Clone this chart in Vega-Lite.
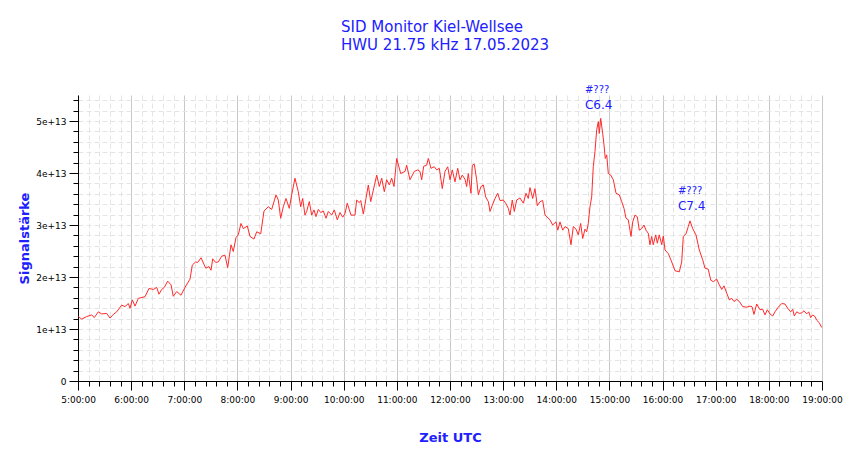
{
  "$schema": "https://vega.github.io/schema/vega-lite/v6.json",
  "width": 744,
  "height": 286,
  "autosize": "none",
  "padding": {"left": 78, "top": 95, "right": 28, "bottom": 78},
  "background": "white",
  "title": {
    "text": ["SID Monitor Kiel-Wellsee", "HWU 21.75 kHz 17.05.2023"],
    "anchor": "start",
    "align": "left",
    "dx": 323,
    "offset": 32,
    "font": "DejaVu Sans",
    "fontSize": 15,
    "fontWeight": "normal",
    "lineHeight": 18,
    "color": "#2020ff"
  },
  "datasets": {
    "messung": [
      {"zeit": 5.006, "signal": 1.24e13}, {"zeit": 5.070, "signal": 1.19e13}, {"zeit": 5.164, "signal": 1.24e13},
      {"zeit": 5.258, "signal": 1.27e13}, {"zeit": 5.307, "signal": 1.22e13}, {"zeit": 5.382, "signal": 1.33e13},
      {"zeit": 5.446, "signal": 1.29e13}, {"zeit": 5.540, "signal": 1.30e13}, {"zeit": 5.602, "signal": 1.21e13},
      {"zeit": 5.664, "signal": 1.28e13}, {"zeit": 5.728, "signal": 1.33e13}, {"zeit": 5.822, "signal": 1.46e13},
      {"zeit": 5.884, "signal": 1.43e13}, {"zeit": 5.947, "signal": 1.49e13}, {"zeit": 5.978, "signal": 1.40e13},
      {"zeit": 6.022, "signal": 1.56e13}, {"zeit": 6.073, "signal": 1.44e13}, {"zeit": 6.135, "signal": 1.59e13},
      {"zeit": 6.261, "signal": 1.62e13}, {"zeit": 6.336, "signal": 1.78e13}, {"zeit": 6.417, "signal": 1.76e13},
      {"zeit": 6.481, "signal": 1.80e13}, {"zeit": 6.524, "signal": 1.67e13}, {"zeit": 6.575, "signal": 1.76e13},
      {"zeit": 6.624, "signal": 1.80e13}, {"zeit": 6.688, "signal": 1.92e13}, {"zeit": 6.750, "signal": 1.85e13},
      {"zeit": 6.793, "signal": 1.63e13}, {"zeit": 6.857, "signal": 1.72e13}, {"zeit": 6.938, "signal": 1.65e13},
      {"zeit": 7.013, "signal": 1.80e13}, {"zeit": 7.108, "signal": 1.96e13}, {"zeit": 7.151, "signal": 2.23e13},
      {"zeit": 7.215, "signal": 2.29e13}, {"zeit": 7.252, "signal": 2.28e13}, {"zeit": 7.315, "signal": 2.37e13},
      {"zeit": 7.403, "signal": 2.17e13}, {"zeit": 7.465, "signal": 2.20e13}, {"zeit": 7.503, "signal": 2.13e13},
      {"zeit": 7.535, "signal": 2.35e13}, {"zeit": 7.591, "signal": 2.28e13}, {"zeit": 7.640, "signal": 2.29e13},
      {"zeit": 7.704, "signal": 2.40e13}, {"zeit": 7.766, "signal": 2.42e13}, {"zeit": 7.817, "signal": 2.18e13},
      {"zeit": 7.879, "signal": 2.62e13}, {"zeit": 7.922, "signal": 2.49e13}, {"zeit": 7.973, "signal": 2.76e13},
      {"zeit": 8.016, "signal": 2.81e13}, {"zeit": 8.067, "signal": 3.03e13}, {"zeit": 8.111, "signal": 2.93e13},
      {"zeit": 8.186, "signal": 2.98e13}, {"zeit": 8.237, "signal": 2.78e13}, {"zeit": 8.312, "signal": 2.73e13},
      {"zeit": 8.363, "signal": 2.87e13}, {"zeit": 8.438, "signal": 2.83e13}, {"zeit": 8.500, "signal": 3.27e13},
      {"zeit": 8.581, "signal": 3.35e13}, {"zeit": 8.645, "signal": 3.30e13}, {"zeit": 8.726, "signal": 3.58e13},
      {"zeit": 8.769, "signal": 3.48e13}, {"zeit": 8.814, "signal": 3.13e13}, {"zeit": 8.863, "signal": 3.35e13},
      {"zeit": 8.914, "signal": 3.51e13}, {"zeit": 8.976, "signal": 3.32e13}, {"zeit": 9.021, "signal": 3.58e13},
      {"zeit": 9.083, "signal": 3.90e13}, {"zeit": 9.145, "signal": 3.64e13}, {"zeit": 9.191, "signal": 3.35e13},
      {"zeit": 9.228, "signal": 3.51e13}, {"zeit": 9.271, "signal": 3.19e13}, {"zeit": 9.303, "signal": 3.26e13},
      {"zeit": 9.352, "signal": 3.45e13}, {"zeit": 9.398, "signal": 3.19e13}, {"zeit": 9.441, "signal": 3.29e13},
      {"zeit": 9.478, "signal": 3.16e13}, {"zeit": 9.522, "signal": 3.30e13}, {"zeit": 9.567, "signal": 3.24e13},
      {"zeit": 9.616, "signal": 3.27e13}, {"zeit": 9.667, "signal": 3.13e13}, {"zeit": 9.710, "signal": 3.26e13},
      {"zeit": 9.774, "signal": 3.19e13}, {"zeit": 9.823, "signal": 3.29e13}, {"zeit": 9.879, "signal": 3.10e13},
      {"zeit": 9.930, "signal": 3.24e13}, {"zeit": 9.981, "signal": 3.15e13}, {"zeit": 10.024, "signal": 3.22e13},
      {"zeit": 10.067, "signal": 3.42e13}, {"zeit": 10.137, "signal": 3.19e13}, {"zeit": 10.212, "signal": 3.19e13},
      {"zeit": 10.244, "signal": 3.48e13}, {"zeit": 10.293, "signal": 3.43e13}, {"zeit": 10.320, "signal": 3.47e13},
      {"zeit": 10.369, "signal": 3.21e13}, {"zeit": 10.419, "signal": 3.51e13}, {"zeit": 10.463, "signal": 3.77e13},
      {"zeit": 10.508, "signal": 3.45e13}, {"zeit": 10.557, "signal": 3.67e13}, {"zeit": 10.621, "signal": 3.96e13},
      {"zeit": 10.670, "signal": 3.74e13}, {"zeit": 10.715, "signal": 3.90e13}, {"zeit": 10.764, "signal": 3.64e13},
      {"zeit": 10.809, "signal": 3.87e13}, {"zeit": 10.858, "signal": 3.77e13}, {"zeit": 10.903, "signal": 3.90e13},
      {"zeit": 10.946, "signal": 3.74e13}, {"zeit": 10.997, "signal": 4.28e13}, {"zeit": 11.072, "signal": 3.99e13},
      {"zeit": 11.153, "signal": 4.03e13}, {"zeit": 11.185, "signal": 4.15e13}, {"zeit": 11.247, "signal": 3.87e13},
      {"zeit": 11.328, "signal": 4.03e13}, {"zeit": 11.392, "signal": 4.06e13}, {"zeit": 11.435, "signal": 4.03e13},
      {"zeit": 11.467, "signal": 3.87e13}, {"zeit": 11.505, "signal": 4.13e13}, {"zeit": 11.561, "signal": 4.15e13},
      {"zeit": 11.592, "signal": 4.28e13}, {"zeit": 11.642, "signal": 4.09e13}, {"zeit": 11.704, "signal": 4.12e13},
      {"zeit": 11.750, "signal": 4.06e13}, {"zeit": 11.799, "signal": 4.09e13}, {"zeit": 11.855, "signal": 3.70e13},
      {"zeit": 11.906, "signal": 4.03e13}, {"zeit": 11.957, "signal": 4.12e13}, {"zeit": 12.000, "signal": 3.87e13},
      {"zeit": 12.043, "signal": 4.06e13}, {"zeit": 12.094, "signal": 3.83e13}, {"zeit": 12.145, "signal": 4.09e13},
      {"zeit": 12.188, "signal": 3.87e13}, {"zeit": 12.231, "signal": 3.96e13}, {"zeit": 12.282, "signal": 3.88e13},
      {"zeit": 12.314, "signal": 3.74e13}, {"zeit": 12.344, "signal": 3.99e13}, {"zeit": 12.395, "signal": 3.61e13},
      {"zeit": 12.420, "signal": 4.15e13}, {"zeit": 12.457, "signal": 4.17e13}, {"zeit": 12.502, "signal": 3.87e13},
      {"zeit": 12.533, "signal": 3.58e13}, {"zeit": 12.583, "signal": 3.74e13}, {"zeit": 12.627, "signal": 3.77e13},
      {"zeit": 12.672, "signal": 3.54e13}, {"zeit": 12.721, "signal": 3.45e13}, {"zeit": 12.753, "signal": 3.26e13},
      {"zeit": 12.796, "signal": 3.38e13}, {"zeit": 12.847, "signal": 3.51e13}, {"zeit": 12.898, "signal": 3.61e13},
      {"zeit": 12.941, "signal": 3.47e13}, {"zeit": 13.003, "signal": 3.48e13}, {"zeit": 13.048, "signal": 3.42e13},
      {"zeit": 13.097, "signal": 3.32e13}, {"zeit": 13.129, "signal": 3.19e13}, {"zeit": 13.172, "signal": 3.48e13},
      {"zeit": 13.210, "signal": 3.26e13}, {"zeit": 13.255, "signal": 3.48e13}, {"zeit": 13.317, "signal": 3.52e13},
      {"zeit": 13.379, "signal": 3.42e13}, {"zeit": 13.430, "signal": 3.61e13}, {"zeit": 13.473, "signal": 3.51e13},
      {"zeit": 13.505, "signal": 3.72e13}, {"zeit": 13.556, "signal": 3.51e13}, {"zeit": 13.599, "signal": 3.70e13},
      {"zeit": 13.643, "signal": 3.37e13}, {"zeit": 13.694, "signal": 3.45e13}, {"zeit": 13.744, "signal": 3.47e13},
      {"zeit": 13.788, "signal": 3.19e13}, {"zeit": 13.882, "signal": 3.10e13}, {"zeit": 13.932, "signal": 3.00e13},
      {"zeit": 13.995, "signal": 3.06e13}, {"zeit": 14.027, "signal": 2.90e13}, {"zeit": 14.070, "signal": 3.06e13},
      {"zeit": 14.121, "signal": 2.90e13}, {"zeit": 14.164, "signal": 2.97e13}, {"zeit": 14.226, "signal": 2.93e13},
      {"zeit": 14.277, "signal": 2.62e13}, {"zeit": 14.320, "signal": 2.97e13}, {"zeit": 14.371, "signal": 2.92e13},
      {"zeit": 14.414, "signal": 2.81e13}, {"zeit": 14.459, "signal": 3.03e13}, {"zeit": 14.497, "signal": 2.74e13},
      {"zeit": 14.540, "signal": 2.92e13}, {"zeit": 14.572, "signal": 2.87e13}, {"zeit": 14.602, "signal": 3.03e13},
      {"zeit": 14.634, "signal": 3.35e13}, {"zeit": 14.666, "signal": 3.54e13}, {"zeit": 14.696, "signal": 4.12e13},
      {"zeit": 14.728, "signal": 4.41e13}, {"zeit": 14.760, "signal": 4.83e13}, {"zeit": 14.791, "signal": 4.99e13},
      {"zeit": 14.809, "signal": 4.76e13}, {"zeit": 14.836, "signal": 5.05e13}, {"zeit": 14.873, "signal": 4.76e13},
      {"zeit": 14.898, "signal": 4.54e13}, {"zeit": 14.922, "signal": 4.28e13}, {"zeit": 14.949, "signal": 4.35e13},
      {"zeit": 14.979, "signal": 3.99e13}, {"zeit": 15.024, "signal": 3.96e13}, {"zeit": 15.073, "signal": 3.87e13},
      {"zeit": 15.124, "signal": 3.61e13}, {"zeit": 15.186, "signal": 3.58e13}, {"zeit": 15.231, "signal": 3.45e13},
      {"zeit": 15.274, "signal": 3.32e13}, {"zeit": 15.312, "signal": 3.13e13}, {"zeit": 15.355, "signal": 3.10e13},
      {"zeit": 15.406, "signal": 2.78e13}, {"zeit": 15.438, "signal": 3.06e13}, {"zeit": 15.481, "signal": 3.19e13},
      {"zeit": 15.524, "signal": 3.16e13}, {"zeit": 15.562, "signal": 2.90e13}, {"zeit": 15.607, "signal": 2.93e13},
      {"zeit": 15.650, "signal": 3.00e13}, {"zeit": 15.688, "signal": 2.90e13}, {"zeit": 15.731, "signal": 2.84e13},
      {"zeit": 15.763, "signal": 2.62e13}, {"zeit": 15.795, "signal": 2.78e13}, {"zeit": 15.825, "signal": 2.62e13},
      {"zeit": 15.871, "signal": 2.81e13}, {"zeit": 15.901, "signal": 2.65e13}, {"zeit": 15.938, "signal": 2.81e13},
      {"zeit": 15.984, "signal": 2.62e13}, {"zeit": 16.014, "signal": 2.79e13}, {"zeit": 16.046, "signal": 2.52e13},
      {"zeit": 16.108, "signal": 2.45e13}, {"zeit": 16.172, "signal": 2.29e13}, {"zeit": 16.234, "signal": 2.12e13},
      {"zeit": 16.315, "signal": 2.10e13}, {"zeit": 16.360, "signal": 2.29e13}, {"zeit": 16.390, "signal": 2.78e13},
      {"zeit": 16.441, "signal": 2.83e13}, {"zeit": 16.484, "signal": 2.97e13}, {"zeit": 16.516, "signal": 3.08e13},
      {"zeit": 16.567, "signal": 2.93e13}, {"zeit": 16.629, "signal": 2.81e13}, {"zeit": 16.691, "signal": 2.52e13},
      {"zeit": 16.755, "signal": 2.33e13}, {"zeit": 16.798, "signal": 2.17e13}, {"zeit": 16.860, "signal": 2.15e13},
      {"zeit": 16.906, "signal": 1.94e13}, {"zeit": 16.954, "signal": 1.91e13}, {"zeit": 17.018, "signal": 1.96e13},
      {"zeit": 17.067, "signal": 1.85e13}, {"zeit": 17.113, "signal": 1.76e13}, {"zeit": 17.156, "signal": 1.83e13},
      {"zeit": 17.207, "signal": 1.69e13}, {"zeit": 17.256, "signal": 1.56e13}, {"zeit": 17.301, "signal": 1.59e13},
      {"zeit": 17.344, "signal": 1.53e13}, {"zeit": 17.395, "signal": 1.57e13}, {"zeit": 17.444, "signal": 1.53e13},
      {"zeit": 17.508, "signal": 1.43e13}, {"zeit": 17.583, "signal": 1.42e13}, {"zeit": 17.645, "signal": 1.44e13},
      {"zeit": 17.683, "signal": 1.43e13}, {"zeit": 17.720, "signal": 1.28e13}, {"zeit": 17.771, "signal": 1.48e13},
      {"zeit": 17.833, "signal": 1.37e13}, {"zeit": 17.884, "signal": 1.38e13}, {"zeit": 17.927, "signal": 1.27e13},
      {"zeit": 17.971, "signal": 1.37e13}, {"zeit": 18.021, "signal": 1.29e13}, {"zeit": 18.072, "signal": 1.25e13},
      {"zeit": 18.115, "signal": 1.33e13}, {"zeit": 18.178, "signal": 1.42e13}, {"zeit": 18.242, "signal": 1.49e13},
      {"zeit": 18.304, "signal": 1.48e13}, {"zeit": 18.354, "signal": 1.40e13}, {"zeit": 18.411, "signal": 1.33e13},
      {"zeit": 18.449, "signal": 1.38e13}, {"zeit": 18.479, "signal": 1.25e13}, {"zeit": 18.524, "signal": 1.33e13},
      {"zeit": 18.573, "signal": 1.30e13}, {"zeit": 18.618, "signal": 1.31e13}, {"zeit": 18.661, "signal": 1.35e13},
      {"zeit": 18.712, "signal": 1.29e13}, {"zeit": 18.750, "signal": 1.33e13}, {"zeit": 18.787, "signal": 1.22e13},
      {"zeit": 18.825, "signal": 1.27e13}, {"zeit": 18.868, "signal": 1.24e13}, {"zeit": 18.900, "signal": 1.17e13},
      {"zeit": 18.949, "signal": 1.12e13}, {"zeit": 18.994, "signal": 1.03e13}
    ],
    "ereignisse": [
      {"zeit": 14.54, "signal": 5.60e13, "text": "#???", "zeile": "oben"},
      {"zeit": 14.54, "signal": 5.31e13, "text": "C6.4", "zeile": "unten"},
      {"zeit": 16.29, "signal": 3.65e13, "text": "#???", "zeile": "oben"},
      {"zeit": 16.29, "signal": 3.37e13, "text": "C7.4", "zeile": "unten"}
    ]
  },
  "layer": [
    {
      "data": {"name": "messung"},
      "mark": {"type": "line", "strokeOpacity": 0},
      "encoding": {
        "x": {
          "field": "zeit", "type": "quantitative",
          "scale": {"domain": [5, 19], "nice": false, "zero": false},
          "axis": {
            "orient": "bottom", "title": null, "labels": false, "domain": false,
            "values": [5.2, 5.4, 5.6, 5.8, 6.2, 6.4, 6.6, 6.8, 7.2, 7.4, 7.6, 7.8, 8.2, 8.4, 8.6, 8.8, 9.2, 9.4, 9.6, 9.8, 10.2, 10.4, 10.6, 10.8, 11.2, 11.4, 11.6, 11.8, 12.2, 12.4, 12.6, 12.8, 13.2, 13.4, 13.6, 13.8, 14.2, 14.4, 14.6, 14.8, 15.2, 15.4, 15.6, 15.8, 16.2, 16.4, 16.6, 16.8, 17.2, 17.4, 17.6, 17.8, 18.2, 18.4, 18.6, 18.8],
            "tickSize": 5, "tickColor": "#000000", "tickWidth": 1,
            "grid": true, "gridColor": "#e4e4e4", "gridDash": [5, 3], "gridWidth": 1
          }
        },
        "y": {
          "field": "signal", "type": "quantitative",
          "scale": {"domain": [0, 5.5e13], "nice": false},
          "axis": {
            "orient": "left", "title": null, "labels": false, "domain": false,
            "values": [0, 2e12, 4e12, 6e12, 8e12, 1e13, 1.2e13, 1.4e13, 1.6e13, 1.8e13, 2e13, 2.2e13, 2.4e13, 2.6e13, 2.8e13, 3e13, 3.2e13, 3.4e13, 3.6e13, 3.8e13, 4e13, 4.2e13, 4.4e13, 4.6e13, 4.8e13, 5e13, 5.2e13, 5.4e13],
            "tickSize": 5, "tickColor": "#000000", "tickWidth": 1,
            "grid": true, "gridColor": "#e4e4e4", "gridDash": [5, 3], "gridWidth": 1
          }
        }
      }
    },
    {
      "data": {"name": "messung"},
      "mark": {"type": "line", "color": "#ff2a2a", "strokeWidth": 1, "clip": true},
      "encoding": {
        "x": {
          "field": "zeit", "type": "quantitative",
          "axis": {
            "orient": "bottom",
            "values": [5, 6, 7, 8, 9, 10, 11, 12, 13, 14, 15, 16, 17, 18, 19],
            "labelExpr": "datum.value + ':00:00'",
            "labelOverlap": false, "labelFlush": false,
            "labelFont": "DejaVu Sans", "labelFontSize": 9, "labelColor": "#000000", "labelPadding": 5,
            "tickSize": 9, "tickColor": "#000000", "domainColor": "#000000",
            "grid": true, "gridColor": "#c8c8c8", "gridWidth": 1,
            "title": "Zeit UTC", "titleFont": "DejaVu Sans", "titleFontSize": 13, "titleFontWeight": "bold",
            "titleColor": "#2020ff", "titleY": 56, "titleBaseline": "middle"
          }
        },
        "y": {
          "field": "signal", "type": "quantitative",
          "axis": {
            "orient": "left",
            "values": [0, 1e13, 2e13, 3e13, 4e13, 5e13],
            "labelExpr": "datum.value == 0 ? '0' : round(datum.value / 1e13) + 'e+13'",
            "labelOverlap": false, "labelFlush": false,
            "labelFont": "DejaVu Sans", "labelFontSize": 9, "labelColor": "#000000", "labelPadding": 3,
            "tickSize": 9, "tickColor": "#000000", "domainColor": "#000000",
            "grid": false,
            "title": "Signalstärke", "titleFont": "DejaVu Sans", "titleFontSize": 13, "titleFontWeight": "bold",
            "titleColor": "#2020ff", "titleX": -54, "titleY": 143, "titleBaseline": "middle", "titleAlign": "center"
          }
        }
      }
    },
    {
      "data": {"name": "ereignisse"},
      "mark": {"type": "text", "align": "left", "baseline": "middle", "font": "DejaVu Sans", "color": "#2020ff"},
      "encoding": {
        "x": {"field": "zeit", "type": "quantitative", "axis": null},
        "y": {"field": "signal", "type": "quantitative", "axis": null},
        "text": {"field": "text"},
        "size": {"field": "zeile", "type": "nominal", "scale": {"domain": ["oben", "unten"], "range": [10, 12]}, "legend": null}
      }
    }
  ],
  "resolve": {"axis": {"x": "independent", "y": "independent"}},
  "config": {"view": {"stroke": null}}
}
